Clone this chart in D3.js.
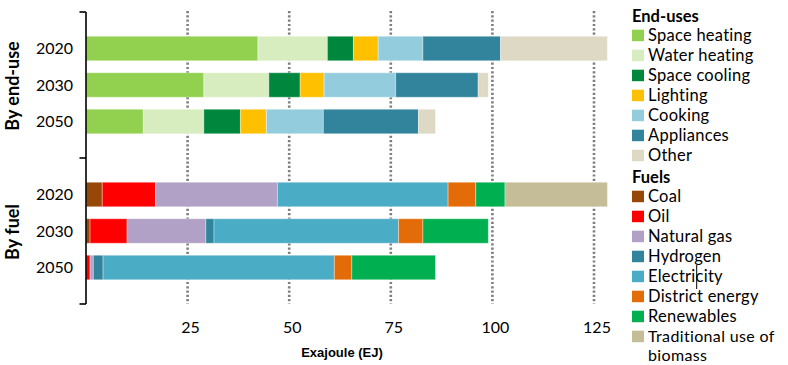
<!DOCTYPE html>
<html>
<head>
<meta charset="utf-8">
<script src="https://cdn.jsdelivr.net/npm/d3@7"></script>
<style>
  html, body { margin: 0; padding: 0; background: #fff; }
  svg { display: block; }
  text { font-family: Lato, "Open Sans", sans-serif; fill: #000; }
</style>
</head>
<body>
<svg id="chart" width="788" height="365"></svg>
<script>
// ---------- data ----------
const years = ["2020", "2030", "2050"];
const groups = ["By end-use", "By fuel"];
const xTicks = [25, 50, 75, 100, 125];
const xLabel = "Exajoule (EJ)";

const endUseCategories = ["Space heating", "Water heating", "Space cooling", "Lighting", "Cooking", "Appliances", "Other"];
const endUseColors = ["#92d050", "#d7edbf", "#00873e", "#ffc000", "#93cddd", "#31849b", "#ddd9c4"];
const spaceHeating = [42.3, 29.0, 14.1];
const waterHeating = [17.1, 16.0, 14.9];
const spaceCooling = [6.4, 7.7, 9.0];
const lighting = [6.1, 5.9, 6.4];
const cooking = [11.0, 17.6, 14.0];
const appliances = [19.1, 20.3, 23.4];
const other = [26.3, 2.5, 4.2];

const fuelCategories = ["Coal", "Oil", "Natural gas", "Hydrogen", "Electricity", "District energy", "Renewables", "Traditional use of biomass"];
const fuelColors = ["#974706", "#ff0000", "#b2a1c7", "#31849b", "#4bacc6", "#e36c09", "#00b050", "#c4bd97"];
const coal = [4.0, 1.0, 0];
const oil = [13.1, 9.1, 1.0];
const naturalGas = [30.0, 19.4, 0.8];
const hydrogen = [0, 2.0, 2.4];
const electricity = [42.0, 45.4, 56.9];
const districtEnergy = [6.8, 6.0, 4.3];
const renewables = [7.2, 16.1, 20.6];
const traditionalBiomass = [25.2, 0, 0];

const endUseSeries = [spaceHeating, waterHeating, spaceCooling, lighting, cooking, appliances, other];
const fuelSeries = [coal, oil, naturalGas, hydrogen, electricity, districtEnergy, renewables, traditionalBiomass];

// ---------- layout ----------
const svg = d3.select("#chart");
const x0 = 86, y0 = 12, groupH = 146;
const x = d3.scaleLinear().domain([0, 125]).range([x0, 594]);
const groupScale = d3.scaleBand().domain(groups).range([y0, y0 + 2 * groupH]);
const barH = 24.5;

// gridlines
svg.append("g")
  .selectAll("line")
  .data(xTicks)
  .join("line")
  .attr("x1", d => x(d)).attr("x2", d => x(d))
  .attr("y1", 11).attr("y2", 304)
  .attr("stroke", "#7f7f7f")
  .attr("stroke-width", 2.6)
  .attr("stroke-dasharray", "2.2,2.1");

function drawGroup(gName, seriesList, colors) {
  const yScale = d3.scalePoint().domain(years).range([groupScale(gName), groupScale(gName) + groupH]).padding(1);
  const table = years.map((yr, i) => {
    const row = { year: yr };
    seriesList.forEach((s, k) => row["k" + k] = s[i]);
    return row;
  });
  const keys = seriesList.map((s, k) => "k" + k);
  const stacked = d3.stack().keys(keys)(table);
  const g = svg.append("g");
  stacked.forEach((layer, k) => {
    g.append("g")
      .attr("fill", colors[k])
      .selectAll("rect")
      .data(layer.filter(d => d[1] - d[0] > 0))
      .join("rect")
      .attr("x", d => x(d[0]))
      .attr("width", d => x(d[1]) - x(d[0]))
      .attr("y", d => yScale(d.data.year) - barH / 2)
      .attr("height", barH)
      .attr("stroke", "#ffffff")
      .attr("stroke-opacity", 0.35)
      .attr("stroke-width", 1);
  });
  // year labels
  svg.append("g")
    .selectAll("text")
    .data(years)
    .join("text")
    .attr("x", 73)
    .attr("y", d => yScale(d))
    .attr("dy", "0.36em")
    .attr("text-anchor", "end")
    .attr("font-size", 16)
    .text(d => d);
  // group label
  svg.append("text")
    .attr("transform", `translate(13,${groupScale(gName) + groupH / 2 + 1}) rotate(-90)`)
    .attr("dy", "0.36em")
    .attr("text-anchor", "middle")
    .attr("font-size", 18)
    .attr("font-weight", "bold")
    .text(gName);
}
drawGroup("By end-use", endUseSeries, endUseColors);
drawGroup("By fuel", fuelSeries, fuelColors);

// y axis line with group ticks
const axisG = svg.append("g");
axisG.append("line")
  .attr("x1", x0).attr("x2", x0)
  .attr("y1", y0).attr("y2", y0 + 2 * groupH)
  .attr("stroke", "#000").attr("stroke-width", 1.6);
axisG.selectAll("line.tk")
  .data([y0, y0 + groupH, y0 + 2 * groupH])
  .join("line")
  .attr("class", "tk")
  .attr("x1", 79.5).attr("x2", x0)
  .attr("y1", d => d).attr("y2", d => d)
  .attr("stroke", "#000").attr("stroke-width", 1.6);

// x axis labels
const xAxis = d3.axisBottom(x).tickValues(xTicks).tickSize(0).tickPadding(0);
const xg = svg.append("g").attr("transform", "translate(2.5,321)").call(xAxis);
xg.select(".domain").remove();
xg.selectAll("text")
  .attr("font-family", "Lato, sans-serif")
  .attr("font-size", 16)
  .attr("fill", "#000")
  .attr("dy", "0.75em");

svg.append("text")
  .attr("x", 342).attr("y", 357)
  .attr("text-anchor", "middle")
  .style("font-family", "'Liberation Sans', Arial, sans-serif")
  .attr("font-weight", "bold")
  .attr("font-size", 13)
  .text(xLabel);

// ---------- legends ----------
function drawLegend(title, cats, colors, titleY) {
  const lg = svg.append("g");
  lg.append("text")
    .attr("x", 632).attr("y", titleY - 2)
    .attr("font-size", 16.5)
    .attr("font-weight", "bold")
    .text(title);
  cats.forEach((c, i) => {
    const by = titleY + 16.7 + 20 * i;
    lg.append("rect")
      .attr("x", 632).attr("y", by - 11)
      .attr("width", 12).attr("height", 11.5)
      .attr("fill", colors[i]);
    if (c === "Traditional use of biomass") {
      lg.append("text")
        .attr("x", 648).attr("y", by)
        .attr("font-size", 16)
        .attr("letter-spacing", 0.35)
        .text("Traditional use of");
      lg.append("text")
        .attr("x", 648).attr("y", by + 19.2)
        .attr("font-size", 16)
        .attr("letter-spacing", 0.35)
        .text("biomass");
    } else {
      lg.append("text")
        .attr("x", 648).attr("y", by)
        .attr("font-size", 16.5)
        .attr("letter-spacing", 0.25)
        .text(c);
    }
  });
}
drawLegend("End-uses", endUseCategories, endUseColors, 24);
drawLegend("Fuels", fuelCategories, fuelColors, 185);

// small cursor mark seen in the reference legend
svg.append("line")
  .attr("x1", 696.7).attr("x2", 696.7)
  .attr("y1", 265).attr("y2", 289)
  .attr("stroke", "#000").attr("stroke-width", 1);
</script>
</body>
</html>
